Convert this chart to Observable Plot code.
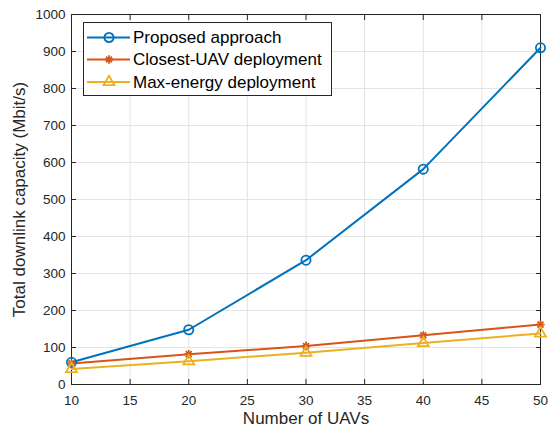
<!DOCTYPE html>
<html>
<head>
<meta charset="utf-8">
<script src="https://cdn.jsdelivr.net/npm/d3@7"></script>
<script src="https://cdn.jsdelivr.net/npm/@observablehq/plot@0.6"></script>
<style>
  html, body { margin: 0; padding: 0; background: #fff; }
  #wrap { position: relative; width: 548px; height: 428px; font-family: "Liberation Sans", Arial, Helvetica, sans-serif; }
  #legend { position: absolute; left: 83px; top: 22px; }
</style>
</head>
<body>
<div id="wrap"><div id="legend"></div></div>
<script>
// ---- data ----
const numUAVs = [10, 20, 30, 40, 50];
const proposedApproach = [60, 148, 336, 582, 910];
const closestUAV = [57, 82, 104, 133, 162];
const maxEnergy = [42, 63, 86, 112, 138];
const seriesNames = ["Proposed approach", "Closest-UAV deployment", "Max-energy deployment"];
const seriesColors = ["#0072BD", "#D95319", "#EDB120"];
const xTicks = [10, 15, 20, 25, 30, 35, 40, 45, 50];
const yTicks = [0, 100, 200, 300, 400, 500, 600, 700, 800, 900, 1000];
const xLabel = "Number of UAVs";
const yLabel = "Total downlink capacity (Mbit/s)";

const seriesValues = [proposedApproach, closestUAV, maxEnergy];
const rows = seriesNames.flatMap((name, i) =>
  numUAVs.map((x, j) => ({series: name, x, y: seriesValues[i][j]}))
);
const bySeries = (i) => rows.filter(d => d.series === seriesNames[i]);

const axisColor = "#262626";
const font = "Liberation Sans, Arial, Helvetica, sans-serif";
const plain = d => String(d);

const chart = Plot.plot({
  width: 548,
  height: 428,
  marginLeft: 71,
  marginRight: 8,
  marginTop: 14,
  marginBottom: 44,
  style: {fontFamily: font, background: "white", overflow: "visible"},
  x: {domain: [10, 50]},
  y: {domain: [0, 1000]},
  color: {domain: seriesNames, range: seriesColors},
  marks: [
    Plot.gridX(xTicks, {stroke: "#e4e4e4", strokeOpacity: 1, strokeWidth: 1}),
    Plot.gridY(yTicks, {stroke: "#e4e4e4", strokeOpacity: 1, strokeWidth: 1}),
    Plot.frame({stroke: axisColor, strokeWidth: 1}),
    // tick labels
    Plot.axisX(xTicks, {anchor: "bottom", tickSize: 0, tickPadding: 11, fontSize: 13.5, fill: axisColor, label: null, tickFormat: plain}),
    Plot.axisY(yTicks, {anchor: "left", tickSize: 0, tickPadding: 6, fontSize: 13.5, fill: axisColor, label: null, tickFormat: plain}),
    // inward ticks on all four sides
    Plot.axisX(xTicks, {anchor: "bottom", tickSize: 5, dy: -5, fill: "none", stroke: axisColor, label: null}),
    Plot.axisX(xTicks, {anchor: "top", tickSize: 5, dy: 5, fill: "none", stroke: axisColor, label: null}),
    Plot.axisY(yTicks, {anchor: "left", tickSize: 5, dx: 5, fill: "none", stroke: axisColor, label: null}),
    Plot.axisY(yTicks, {anchor: "right", tickSize: 5, dx: -5, fill: "none", stroke: axisColor, label: null}),
    // axis titles
    Plot.text([xLabel], {text: d => d, frameAnchor: "bottom", dy: 39, fontSize: 17, fill: axisColor}),
    Plot.text([yLabel], {text: d => d, frameAnchor: "left", textAnchor: "middle", rotate: -90, dx: -52, fontSize: 17, fill: axisColor}),
    // lines
    Plot.line(rows, {x: "x", y: "y", z: "series", stroke: "series", strokeWidth: 2}),
    // markers
    Plot.dot(bySeries(0), {x: "x", y: "y", symbol: "circle", r: 4.6, stroke: seriesColors[0], strokeWidth: 1.8, fill: "none"}),
    Plot.dot(bySeries(1), {x: "x", y: "y", symbol: "plus", r: 2.8, stroke: seriesColors[1], strokeWidth: 1.8, fill: "none"}),
    Plot.dot(bySeries(1), {x: "x", y: "y", symbol: "times", r: 2.8, stroke: seriesColors[1], strokeWidth: 1.8, fill: "none"}),
    Plot.dot(bySeries(2), {x: "x", y: "y", symbol: d3.symbolTriangle2, r: 5.2, stroke: seriesColors[2], strokeWidth: 1.8, fill: "none"})
  ]
});
document.getElementById("wrap").insertBefore(chart, document.getElementById("legend"));
chart.style.display = "block";

// ---- legend ----
const lg = d3.select("#legend").append("svg")
  .attr("width", 249).attr("height", 74)
  .style("display", "block").style("font-family", font);
lg.append("rect").attr("x", 0.5).attr("y", 0.5).attr("width", 248).attr("height", 73)
  .attr("fill", "white").attr("stroke", axisColor).attr("stroke-width", 1);
const rowY = [15.5, 37.5, 60];
const legendSymbols = [
  [d3.symbol(d3.symbolCircle, Math.PI * 4.6 * 4.6)],
  [d3.symbol(d3.symbolPlus, Math.PI * 2.8 * 2.8), d3.symbol(d3.symbolTimes, Math.PI * 2.8 * 2.8)],
  [d3.symbol(d3.symbolTriangle2, Math.PI * 5.2 * 5.2)]
];
seriesNames.forEach((name, i) => {
  const g = lg.append("g").attr("transform", `translate(0,${rowY[i]})`);
  g.append("line").attr("x1", 4).attr("x2", 47).attr("y1", 0).attr("y2", 0)
    .attr("stroke", seriesColors[i]).attr("stroke-width", 2);
  legendSymbols[i].forEach(sym => {
    g.append("path").attr("d", sym()).attr("transform", "translate(26,0)")
      .attr("fill", "none").attr("stroke", seriesColors[i]).attr("stroke-width", 1.8);
  });
  g.append("text").attr("x", 50).attr("y", 0).attr("dy", "0.35em")
    .attr("font-size", 17).attr("fill", "#000").text(name);
});
</script>
</body>
</html>
